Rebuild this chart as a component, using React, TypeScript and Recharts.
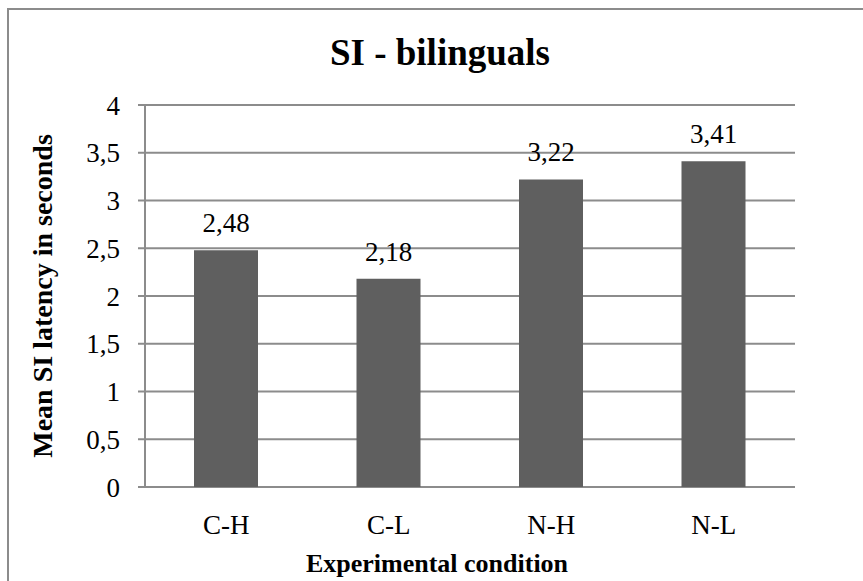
import { BarChart, Bar, XAxis, YAxis, CartesianGrid, LabelList, Label } from 'recharts'

const conditions = ['C-H', 'C-L', 'N-H', 'N-L']
const latencies = [2.48, 2.18, 3.22, 3.41]
const yTicks = [0, 0.5, 1, 1.5, 2, 2.5, 3, 3.5, 4]

const chartData = conditions.map((c, i) => ({ condition: c, latency: latencies[i], pos: i }))

const serif = '"Liberation Serif", "Times New Roman", serif'
const fmt = (v: unknown) => String(v).replace('.', ',')

export default function App() {
  return (
    <div
      style={{
        position: 'absolute',
        left: 7,
        top: 8,
        width: 856,
        height: 590,
        borderTop: '2px solid #8c8c8c',
        borderLeft: '2px solid #8c8c8c',
        boxSizing: 'border-box',
        background: '#fff',
        fontFamily: serif,
        overflow: 'hidden',
      }}
    >
      <div
        style={{
          position: 'absolute',
          left: 0,
          width: 862,
          top: 21,
          textAlign: 'center',
          fontSize: 37,
          fontWeight: 'bold',
          color: '#000',
        }}
      >
        SI - bilinguals
      </div>
      <BarChart
        width={850}
        height={572}
        data={chartData}
        margin={{ top: 95, right: 64, bottom: 0, left: 0 }}
      >
        <CartesianGrid vertical={false} stroke="#8c8c8c" strokeWidth={2} />
        <XAxis
          xAxisId="edges"
          type="number"
          dataKey="pos"
          domain={[0, 4]}
          ticks={[0, 1, 2, 3, 4]}
          height={0}
          tick={false}
          tickSize={8}
          stroke="#8c8c8c"
          strokeWidth={2}
        />
        <XAxis
          dataKey="condition"
          height={95}
          axisLine={false}
          tickLine={false}
          tickMargin={22}
          tick={{ fill: '#000', fontSize: 27, fontFamily: serif }}
        >
          <Label
            content={({ viewBox }: any) => (
              <text
                x={428}
                y={viewBox.y + viewBox.height - 10}
                textAnchor="middle"
                style={{ fill: '#000', fontSize: 26, fontWeight: 'bold', fontFamily: serif }}
              >
                Experimental condition
              </text>
            )}
          />
        </XAxis>
        <YAxis
          width={136}
          domain={[0, 4]}
          ticks={yTicks}
          tickFormatter={fmt}
          tickSize={7}
          tickMargin={18}
          stroke="#8c8c8c"
          strokeWidth={2}
          tick={{ fill: '#000', fontSize: 27, fontFamily: serif }}
        >
          <Label
            content={({ viewBox }: any) => {
              const cx = 33
              const cy = viewBox.y + viewBox.height / 2
              return (
                <text
                  x={cx}
                  y={cy}
                  transform={`rotate(-90 ${cx} ${cy})`}
                  textAnchor="middle"
                  dominantBaseline="central"
                  style={{ fill: '#000', fontSize: 28, fontWeight: 'bold', fontFamily: serif }}
                >
                  Mean SI latency in seconds
                </text>
              )
            }}
          />
        </YAxis>
        <Bar dataKey="latency" fill="#5f5f5f" barSize={64} isAnimationActive={false}>
          <LabelList
            dataKey="latency"
            position="top"
            offset={18}
            formatter={fmt}
            style={{ fill: '#000', fontSize: 27, fontFamily: serif }}
          />
        </Bar>
      </BarChart>
    </div>
  )
}
